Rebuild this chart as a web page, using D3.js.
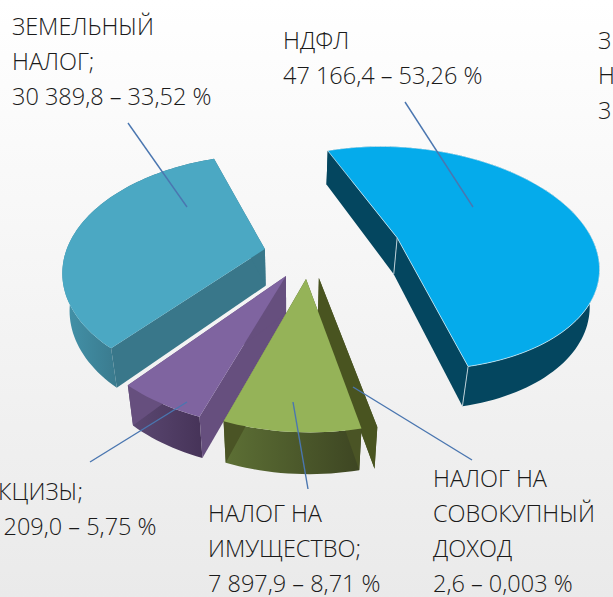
<!DOCTYPE html>
<html>
<head>
<meta charset="utf-8">
<script src="https://cdn.jsdelivr.net/npm/d3@7"></script>
<style>
    body { margin: 0; overflow: hidden; }
    svg { display: block; }
    text { font-family: "Open Sans", sans-serif; font-weight: 300; font-size: 23.5px; fill: #1a1a1a; }
</style>
</head>
<body>
<svg id="drawing_region" width="613" height="597"></svg>
<script>
const categories = ["НДФЛ", "НАЛОГ НА СОВОКУПНЫЙ ДОХОД", "НАЛОГ НА ИМУЩЕСТВО", "АКЦИЗЫ", "ЗЕМЕЛЬНЫЙ НАЛОГ"];
const values = [47166.4, 2.6, 7897.9, 5209.0, 30389.8];
const labelNdfl = ["НДФЛ", "47 166,4 – 53,26 %"];
const labelSovokup = ["НАЛОГ НА", "СОВОКУПНЫЙ", "ДОХОД", "2,6 –  0,003 %"];
const labelImush = ["НАЛОГ НА", "ИМУЩЕСТВО;", "7 897,9 – 8,71 %"];
const labelAkciz = ["АКЦИЗЫ;", "5 209,0 – 5,75 %"];
const labelZem = ["ЗЕМЕЛЬНЫЙ", "НАЛОГ;", "30 389,8 – 33,52 %"];
const labelCut = ["З", "Н", "3"];

// look of each slice, same order as categories
const topColors = ["#05abeb", "#495420", "#95b358", "#7f64a0", "#4ba8c3"];
const cutColors = ["#04465f", "#495420", "#4a5425", "#664f7e", "#39778a"];
const sideColors = [["#04465f", "#04465f"], ["#495420", "#495420"], ["#5d7035", "#3d4522"], ["#5c4973", "#463358"], ["#4393aa", "#39778a"]];
const explode = [[113, -34], [28.5, 8], [15.8, 8.9], [-4, 5.9], [-26, -21.7]];
const drawOrder = [0, 4, 1, 3, 2];

// perspective of the tilted pie
const view = { cx: 290, cy: 270, rx: 205, ry: 120, q: 0.0016, k: 0.033, depth: 38.5 };

function project(x, y, z) {
    const w = (1 - view.q * y) * (1 + view.k * z);
    return [view.cx + x / w, view.cy + (y + view.depth * z) / w];
}

function rimPoint(i, angle, z) {
    const o = explode[i];
    return project(o[0] + view.rx * Math.sin(angle), o[1] - view.ry * Math.cos(angle), z);
}

function rim(d, z) {
    const n = Math.max(1, Math.ceil((d.endAngle - d.startAngle) / 0.03));
    return d3.range(n + 1).map(j => rimPoint(d.index, d.startAngle + (d.endAngle - d.startAngle) * j / n, z));
}

const svg = d3.select("#drawing_region");
const defs = svg.append("defs");
const line = d3.line().curve(d3.curveLinear);

const bg = defs.append("linearGradient").attr("id", "bg")
    .attr("x1", 0).attr("y1", 0).attr("x2", 0).attr("y2", 1);
bg.append("stop").attr("offset", "0").attr("stop-color", "#ffffff");
bg.append("stop").attr("offset", "1").attr("stop-color", "#eaeaea");
svg.append("rect").attr("width", 613).attr("height", 597).attr("fill", "url(#bg)");

const startDeg = -18.9;
const pie = d3.pie().sort(null)
    .startAngle(startDeg * Math.PI / 180)
    .endAngle((startDeg + 360) * Math.PI / 180);
const slices = pie(values);

sideColors.forEach((c, i) => {
    const g = defs.append("linearGradient").attr("id", "side" + i);
    g.append("stop").attr("offset", "0").attr("stop-color", c[0]);
    g.append("stop").attr("offset", i == 4 ? "0.4" : "1").attr("stop-color", c[1]);
});

const groups = svg.selectAll("g.slice")
    .data(drawOrder.map(i => slices[i]))
    .join("g")
    .attr("class", "slice");

groups.each(function (d) {
    const g = d3.select(this);
    const i = d.index;
    const apexTop = project(explode[i][0], explode[i][1], 0);
    const apexBot = project(explode[i][0], explode[i][1], 1);
    const rimTop = rim(d, 0);
    const rimBot = rim(d, 1);
    const first = 0, last = rimTop.length - 1;

    // outer wall
    g.append("path")
        .attr("d", line(rimTop.concat(rimBot.slice().reverse())) + "Z")
        .attr("fill", `url(#side${i})`);

    // the two cut walls
    [first, last].forEach(k => {
        g.append("path")
            .attr("d", line([apexTop, rimTop[k], rimBot[k], apexBot]) + "Z")
            .attr("fill", cutColors[i]);
    });

    // top face (the thin slice is only a wall here)
    if (d.endAngle - d.startAngle > 0.01) {
        g.append("path")
            .attr("d", line([apexTop].concat(rimTop)) + "Z")
            .attr("fill", topColors[i])
            .attr("stroke", i == 0 ? "#ffffff" : "none")
            .attr("stroke-opacity", 0.6)
            .attr("stroke-width", 1);
    }

    // light seams on the blue slice
    if (i == 0) {
        [[apexTop, apexBot], [rimTop[last], rimBot[last]]].forEach(seam => {
            g.append("path").attr("d", line(seam))
                .attr("stroke", "#b9cdd5").attr("stroke-width", 1).attr("fill", "none");
        });
    }
});

// leader lines
const leaders = [[405, 102, 473, 207], [128, 123, 187, 207], [90, 462, 187, 402], [308, 489, 293, 402], [472, 460, 353, 387]];
svg.selectAll("line.leader")
    .data(leaders)
    .join("line")
    .attr("class", "leader")
    .attr("x1", d => d[0]).attr("y1", d => d[1])
    .attr("x2", d => d[2]).attr("y2", d => d[3])
    .attr("stroke", "#4a76b0")
    .attr("stroke-width", 1.4);

// labels
function addLabel(lines, x, y) {
    const t = svg.append("text").attr("x", x).attr("y", y);
    lines.forEach((s, i) => {
        t.append("tspan").attr("x", x).attr("y", y + i * 35).text(s);
    });
    return t;
}
addLabel(labelZem, 12, 35);
addLabel(labelNdfl, 283, 49);
addLabel(labelCut, 598, 49);
addLabel(labelAkciz, -16, 500);
addLabel(labelImush, 208, 522);
addLabel(labelSovokup, 433, 487);
</script>
</body>
</html>
